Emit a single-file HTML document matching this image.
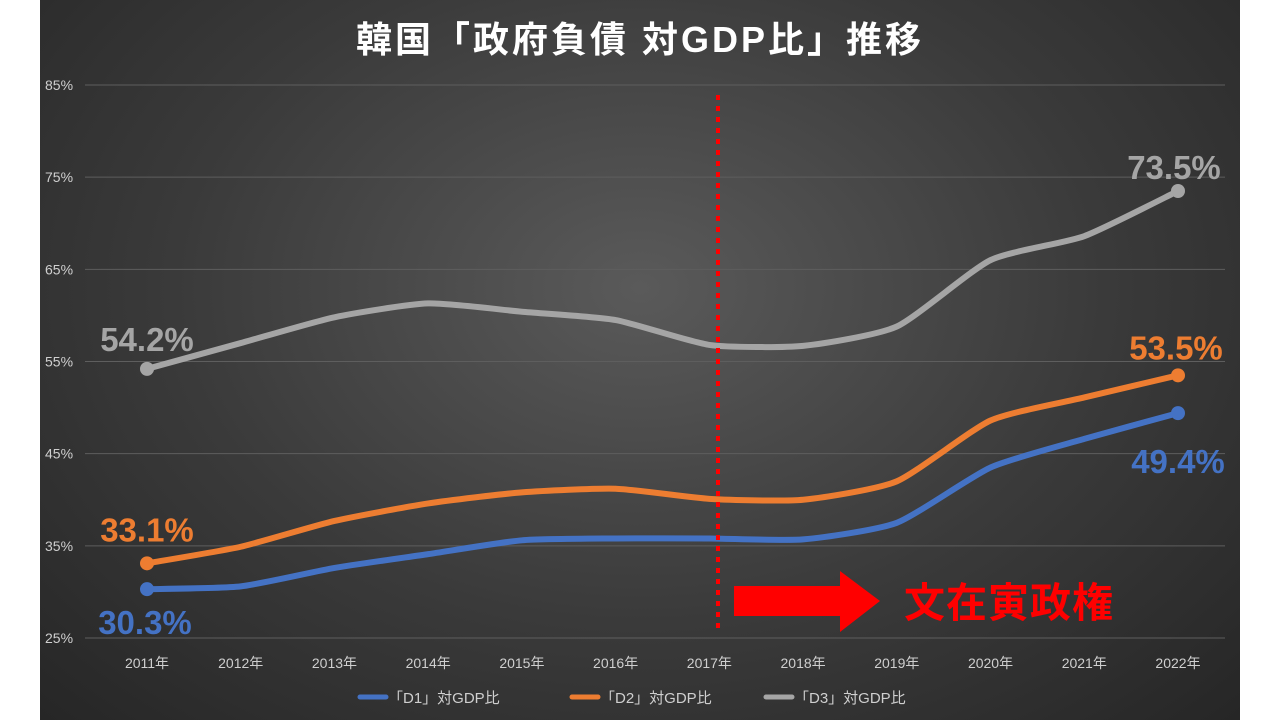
<!DOCTYPE html>
<html><head><meta charset="utf-8">
<style>
html,body{margin:0;padding:0;background:#fff;width:1280px;height:720px;overflow:hidden}
#chart{position:absolute;left:40px;top:0;width:1200px;height:720px;background:radial-gradient(ellipse at 50% 40%,#5a5a5a 0%,#3a3a3a 55%,#262626 100%)}
svg{position:absolute;left:0;top:0}
text{font-family:"Liberation Sans","Noto Sans CJK JP",sans-serif}
</style></head><body>
<div id="chart"></div>
<svg id="svg" width="1280" height="720"></svg>
<script>
const categories=["2011年","2012年","2013年","2014年","2015年","2016年","2017年","2018年","2019年","2020年","2021年","2022年"];
const d1=[30.3,30.6,32.6,34.1,35.6,35.8,35.8,35.7,37.5,43.5,46.6,49.4];
const d2=[33.1,34.9,37.7,39.6,40.8,41.2,40.1,40.0,42.0,48.6,51.1,53.5];
const d3=[54.2,57.0,59.8,61.3,60.4,59.5,56.8,56.7,58.8,66.0,68.6,73.5];
const yTicks=[25,35,45,55,65,75,85];
const seriesNames=["「D1」対GDP比","「D2」対GDP比","「D3」対GDP比"];
const NS="http://www.w3.org/2000/svg";
const svg=document.getElementById('svg');
const x=i=>147+i*(1178-147)/11;
const y=v=>638-(v-25)*(638-85)/60;
function el(t,a,txt){const e=document.createElementNS(NS,t);for(const k in a)e.setAttribute(k,a[k]);if(txt!==undefined)e.textContent=txt;svg.appendChild(e);return e;}
let e=el('text',{x:640,y:52,'text-anchor':'middle','font-size':36,'font-weight':'bold',fill:'#fff','letter-spacing':'3px'},'韓国「政府負債 対GDP比」推移');

yTicks.forEach(v=>{
 let g=el('line',{x1:85,x2:1225,y1:y(v),y2:y(v),stroke:'#5e5e5e','stroke-width':1});
 
 let t=el('text',{x:45,y:y(v)+5,'font-size':14,fill:'#cfcfcf'},v+'%');
 
});
categories.forEach((c,i)=>{
 let t=el('text',{x:x(i),y:668,'text-anchor':'middle','font-size':14,fill:'#cfcfcf'},c);
 
});
function smooth(vals){
 const p=vals.map((v,i)=>[x(i),y(v)]);let d=`M${p[0][0]},${p[0][1]}`;
 for(let i=0;i<p.length-1;i++){const p0=p[i-1]||p[i],p1=p[i],p2=p[i+1],p3=p[i+2]||p2;const t=0.1;
  d+=` C${p1[0]+(p2[0]-p0[0])*t},${p1[1]+(p2[1]-p0[1])*t} ${p2[0]-(p3[0]-p1[0])*t},${p2[1]-(p3[1]-p1[1])*t} ${p2[0]},${p2[1]}`;}
 return d;}
const series=[[d3,'#a5a5a5','d3'],[d2,'#ed7d31','d2'],[d1,'#4472c4','d1']];
series.forEach(([vals,col,n])=>{
 let p=el('path',{d:smooth(vals),fill:'none',stroke:col,'stroke-width':6,'stroke-linecap':'round'});
 
 [0,vals.length-1].forEach(i=>{let c=el('circle',{cx:x(i),cy:y(vals[i]),r:7,fill:col});
  });
});
const labs=[[d3,0,'#a5a5a5',-18,0],[d3,11,'#a5a5a5',-12,-4],[d2,0,'#ed7d31',-22,0],[d2,11,'#ed7d31',-16,-2],[d1,0,'#4472c4',45,-2],[d1,11,'#4472c4',60,0]];
labs.forEach(([vals,i,col,dy,dx])=>{
 let t=el('text',{x:x(i)+dx,y:y(vals[i])+dy,'text-anchor':'middle','font-size':33,'font-weight':'bold',fill:col},vals[i].toFixed(1)+'%');
 
});
let vl=el('line',{x1:718,x2:718,y1:95,y2:632,stroke:'#ff0000','stroke-width':4,'stroke-dasharray':'5,6'});

let ar=el('polygon',{points:'734,586 840,586 840,571 880,601 840,632 840,616 734,616',fill:'#ff0000'});

let at=el('text',{x:904,y:617,'font-size':41,'font-weight':'bold',fill:'#ff0000','letter-spacing':'1px'},'文在寅政権');

const lx=[360,572,766],lc=['#4472c4','#ed7d31','#a5a5a5'];
seriesNames.forEach((s,i)=>{
 let l=el('line',{x1:lx[i],x2:lx[i]+26,y1:697,y2:697,stroke:lc[i],'stroke-width':5,'stroke-linecap':'round'});
 
 let t=el('text',{x:lx[i]+28,y:703,'font-size':15,fill:'#cfcfcf'},s);
 
});
</script>
</body></html>
